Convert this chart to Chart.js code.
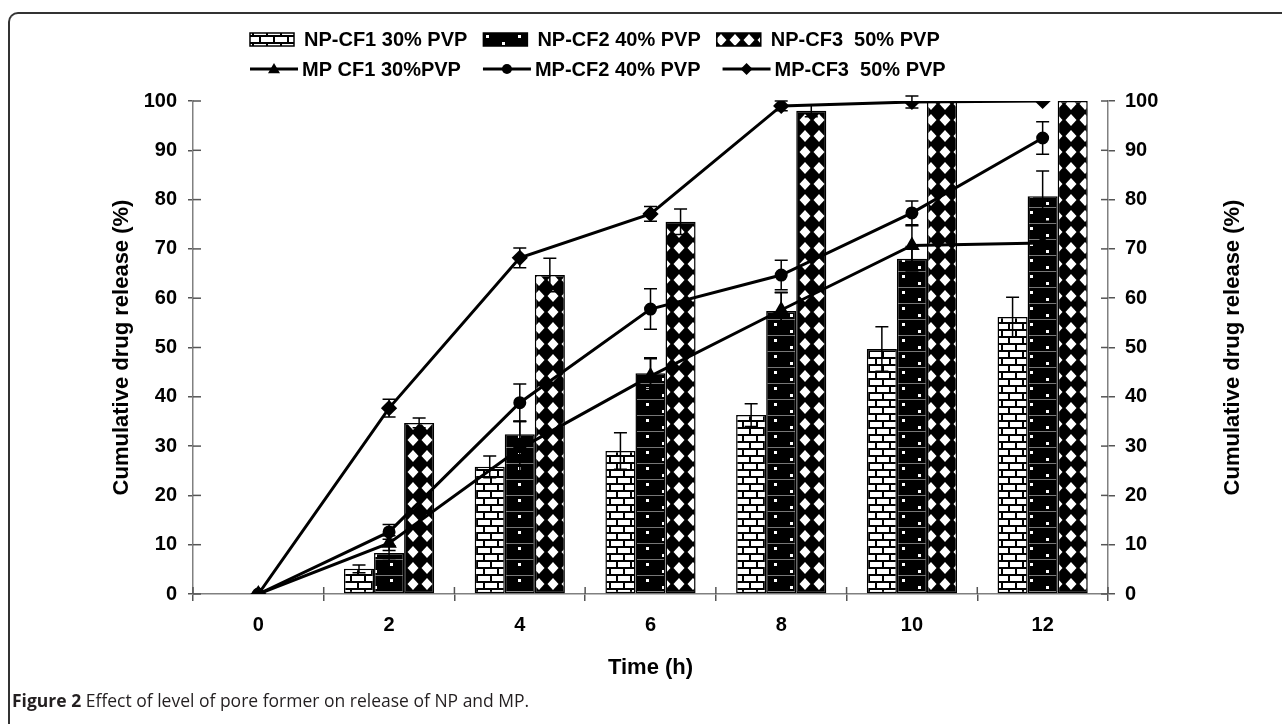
<!DOCTYPE html>
<html>
<head>
<meta charset="utf-8">
<script src="https://cdn.jsdelivr.net/npm/chart.js@4.4.1/dist/chart.umd.min.js"></script>
<style>
  html, body { margin: 0; padding: 0; background: #fff; }
  #wrap { position: relative; width: 1282px; height: 724px; overflow: hidden; }
  #frame {
    position: absolute; left: 8px; top: 12px; width: 1290px; height: 740px;
    border-left: 2px solid #333; border-top: 2px solid #333; border-top-left-radius: 10px;
  }
  #chart { position: absolute; left: 0; top: 0; }
  #caption {
    position: absolute; left: 12px; top: 688px; font-family: "Open Sans", sans-serif;
    font-size: 17.5px; color: #231f20; white-space: nowrap;
  }
  #caption b { font-weight: 700; }
</style>
</head>
<body>
<div id="wrap">
  <div id="frame"></div>
  <canvas id="chart" width="1282" height="724"></canvas>
  <div id="caption"><b>Figure 2</b> Effect of level of pore former on release of NP and MP.</div>
</div>
<script>
// time points (h)
const TIME_LABELS = ["0", "2", "4", "6", "8", "10", "12"];

// nanoparticle formulations (bars)
const NP_CF1 = [0, 5.1, 25.8, 29.0, 36.3, 49.7, 56.2];
const NP_CF1_ERR = [0, 0.8, 2.2, 3.7, 2.3, 4.5, 4.0];
const NP_CF2 = [0, 8.3, 32.4, 44.8, 57.4, 68.0, 80.7];
const NP_CF2_ERR = [0, 1.5, 2.7, 3.1, 3.8, 2.5, 5.1];
const NP_CF3 = [0, 34.7, 64.7, 75.5, 98.0, 100, 100];
const NP_CF3_ERR = [0, 1.0, 3.4, 2.6, 1.2, 0, 0];

// microparticle formulations (lines)
const MP_CF1 = [0, 10.3, 29.5, 44.2, 57.6, 70.7, 71.2];
const MP_CF1_ERR = [0, 1.5, 5.5, 3.5, 3.5, 4.0, 0];
const MP_CF2 = [0, 12.6, 38.8, 57.8, 64.7, 77.3, 92.5];
const MP_CF2_ERR = [0, 1.5, 3.8, 4.1, 3.0, 2.4, 3.3];
const MP_CF3 = [0, 37.7, 68.2, 77.1, 99.0, 99.8, 100];
const MP_CF3_ERR = [0, 1.8, 2.0, 1.5, 1.0, 1.2, 0];

const Y_TICKS = { min: 0, max: 100, step: 10 };
const Y_TITLE = "Cumulative drug release (%)";

const FONT = "'Liberation Sans', Arial, sans-serif";

// ---- fill patterns ----
function makePattern(w, h, draw) {
  const c = document.createElement("canvas");
  c.width = w; c.height = h;
  draw(c.getContext("2d"));
  return document.createElement("canvas").getContext("2d").createPattern(c, "repeat");
}

const brickFill = makePattern(14, 14, g => {
  g.fillStyle = "#000"; g.fillRect(0, 0, 14, 14);
  g.fillStyle = "#fff";
  g.fillRect(2, 2, 12, 5);
  g.fillRect(0, 9, 7, 5);
  g.fillRect(9, 9, 5, 5);
});

const dotFill = makePattern(32, 16, g => {
  g.fillStyle = "#000"; g.fillRect(0, 0, 32, 16);
  g.fillStyle = "#777"; g.fillRect(0, 15, 32, 1);
  g.fillStyle = "#fff";
  g.fillRect(6, 3, 3, 3);
  g.fillRect(22, 10, 3, 3);
});

const diamondFill = makePattern(14, 16, g => {
  g.fillStyle = "#000"; g.fillRect(0, 0, 14, 16);
  g.fillStyle = "#fff";
  g.beginPath();
  g.moveTo(7, 2); g.lineTo(12.5, 8); g.lineTo(7, 14); g.lineTo(1.5, 8);
  g.closePath(); g.fill();
});

function barSet(label, data, errors, fill) {
  return {
    type: "bar", label, data, errors, order: 2,
    backgroundColor: fill, borderColor: "#000", borderWidth: 1.5, borderSkipped: false
  };
}

function lineSet(label, data, errors, pointStyle, radius) {
  return {
    type: "line", label, data, errors, order: 1,
    borderColor: "#000", borderWidth: 3, tension: 0,
    pointStyle, pointRadius: radius, pointBackgroundColor: "#000", pointBorderColor: "#000"
  };
}

// ---- plugins ----
// inner half of the crossing tick marks
const crossTicks = {
  id: "crossTicks",
  afterDatasetsDraw(chart) {
    const { ctx, chartArea: a, scales } = chart;
    ctx.save();
    ctx.strokeStyle = "#555";
    ctx.lineWidth = 1.5;
    scales.y.ticks.forEach(t => {
      const py = scales.y.getPixelForValue(t.value);
      ctx.beginPath(); ctx.moveTo(a.left, py); ctx.lineTo(a.left + 8, py); ctx.stroke();
      ctx.beginPath(); ctx.moveTo(a.right - 7, py); ctx.lineTo(a.right, py); ctx.stroke();
    });
    const n = chart.data.labels.length;
    for (let i = 0; i <= n; i++) {
      const px = a.left + (a.right - a.left) * i / n;
      ctx.beginPath(); ctx.moveTo(px, a.bottom - 7); ctx.lineTo(px, a.bottom); ctx.stroke();
    }
    ctx.restore();
  }
};

const errorBars = {
  id: "errorBars",
  afterDatasetsDraw(chart) {
    const ctx = chart.ctx, y = chart.scales.y;
    ctx.save();
    ctx.strokeStyle = "#000";
    ctx.lineWidth = 1.5;
    chart.data.datasets.forEach((ds, di) => {
      if (!ds.errors) return;
      chart.getDatasetMeta(di).data.forEach((el, i) => {
        const e = ds.errors[i];
        if (!e) return;
        const top = y.getPixelForValue(ds.data[i] + e);
        const bot = y.getPixelForValue(ds.data[i] - e);
        ctx.beginPath();
        ctx.moveTo(el.x, top); ctx.lineTo(el.x, bot);
        ctx.moveTo(el.x - 6.5, top); ctx.lineTo(el.x + 6.5, top);
        ctx.moveTo(el.x - 6.5, bot); ctx.lineTo(el.x + 6.5, bot);
        ctx.stroke();
      });
    });
    ctx.restore();
  }
};

// right axis title reads bottom-to-top like the left one
const rightTitle = {
  id: "rightTitle",
  afterDraw(chart) {
    const { ctx, chartArea: a } = chart;
    ctx.save();
    ctx.font = "bold 22px " + FONT;
    ctx.fillStyle = "#000";
    ctx.textAlign = "center";
    ctx.textBaseline = "middle";
    ctx.translate(1233, (a.top + a.bottom) / 2);
    ctx.rotate(-Math.PI / 2);
    ctx.fillText(Y_TITLE, 0, 0);
    ctx.restore();
  }
};

// two-row legend: bars on top, lines below
const twoRowLegend = {
  id: "twoRowLegend",
  afterDraw(chart) {
    const ctx = chart.ctx;
    const sets = chart.data.datasets;
    ctx.save();
    ctx.font = "bold 20px " + FONT;
    ctx.textBaseline = "middle";
    ctx.fillStyle = "#000";

    let x = 250, yRow = 39;
    sets.filter(d => d.type === "bar").forEach(d => {
      ctx.fillStyle = d.backgroundColor;
      ctx.fillRect(x, yRow - 6, 44, 13);
      ctx.strokeStyle = "#000"; ctx.lineWidth = 1.5;
      ctx.strokeRect(x, yRow - 6, 44, 13);
      ctx.fillStyle = "#000";
      ctx.fillText(d.label, x + 54, yRow + 1);
      x += 54 + ctx.measureText(d.label).width + 16;
    });

    x = 250; yRow = 69;
    sets.filter(d => d.type === "line").forEach(d => {
      ctx.strokeStyle = "#000"; ctx.lineWidth = 3;
      ctx.beginPath(); ctx.moveTo(x, yRow); ctx.lineTo(x + 48, yRow); ctx.stroke();
      const cx = x + 24, r = d.pointRadius;
      ctx.beginPath();
      if (d.pointStyle === "triangle") {
        ctx.moveTo(cx, yRow - r); ctx.lineTo(cx + r, yRow + r * 0.7); ctx.lineTo(cx - r, yRow + r * 0.7);
      } else if (d.pointStyle === "rectRot") {
        ctx.moveTo(cx, yRow - r); ctx.lineTo(cx + r, yRow); ctx.lineTo(cx, yRow + r); ctx.lineTo(cx - r, yRow);
      } else {
        ctx.arc(cx, yRow, r, 0, Math.PI * 2);
      }
      ctx.closePath(); ctx.fill();
      ctx.fillText(d.label, x + 52, yRow + 1);
      x += 52 + ctx.measureText(d.label).width + 22;
    });
    ctx.restore();
  }
};

const tickFont = { family: FONT, size: 20, weight: "bold" };
const titleFont = { family: FONT, size: 22, weight: "bold" };

new Chart(document.getElementById("chart"), {
  type: "bar",
  data: {
    labels: TIME_LABELS,
    datasets: [
      barSet("NP-CF1 30% PVP", NP_CF1, NP_CF1_ERR, brickFill),
      barSet("NP-CF2 40% PVP", NP_CF2, NP_CF2_ERR, dotFill),
      barSet("NP-CF3  50% PVP", NP_CF3, NP_CF3_ERR, diamondFill),
      lineSet("MP CF1 30%PVP", MP_CF1, MP_CF1_ERR, "triangle", 6),
      lineSet("MP-CF2 40% PVP", MP_CF2, MP_CF2_ERR, "circle", 5),
      lineSet("MP-CF3  50% PVP", MP_CF3, MP_CF3_ERR, "rectRot", 6)
    ]
  },
  options: {
    responsive: false,
    animation: false,
    layout: { padding: { left: 98, right: 25, top: 101, bottom: 40 } },
    datasets: { bar: { categoryPercentage: 0.69, barPercentage: 1 } },
    plugins: { legend: { display: false }, tooltip: { enabled: false } },
    scales: {
      x: {
        grid: { drawOnChartArea: false, offset: true, color: "#555", lineWidth: 1.5, tickLength: 7 },
        border: { color: "#808080", width: 1.5 },
        ticks: { color: "#000", font: tickFont, padding: 12 },
        title: { display: true, text: "Time (h)", color: "#000", font: titleFont, padding: { top: 0, bottom: 3 } },
        afterFit(s) { s.height = 90; }
      },
      y: {
        position: "left", min: Y_TICKS.min, max: Y_TICKS.max,
        grid: { drawOnChartArea: false, color: "#555", lineWidth: 1.5, tickLength: 5 },
        border: { color: "#808080", width: 1.5 },
        ticks: { stepSize: Y_TICKS.step, color: "#000", font: tickFont, padding: 11 },
        title: { display: true, text: Y_TITLE, color: "#000", font: titleFont, padding: { top: 11, bottom: 0 } },
        afterFit(s) { s.width = 95; }
      },
      y2: {
        position: "right", min: Y_TICKS.min, max: Y_TICKS.max,
        grid: { drawOnChartArea: false, color: "#555", lineWidth: 1.5, tickLength: 7 },
        border: { color: "#808080", width: 1.5 },
        ticks: { stepSize: Y_TICKS.step, color: "#000", font: tickFont, padding: 10 },
        title: { display: false },
        afterFit(s) { s.width = 149; }
      }
    }
  },
  plugins: [crossTicks, errorBars, rightTitle, twoRowLegend]
});
</script>
</body>
</html>
